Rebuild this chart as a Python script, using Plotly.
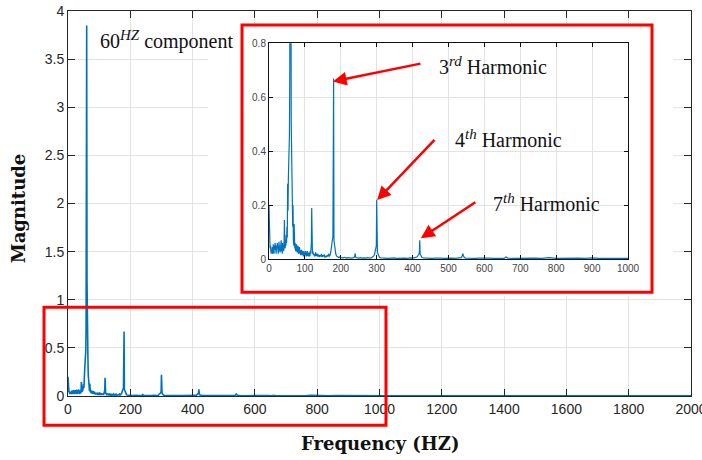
import plotly.graph_objects as go

# ---- data ----
freq_hz = [
    0, 1, 2, 3, 4, 5, 6, 7, 8, 9, 10, 11, 12, 13, 14, 15, 16, 17, 18, 19,
    20, 21, 22, 23, 24, 25, 26, 27, 28, 29, 30, 31, 32, 33, 34, 35, 36, 37, 38, 39,
    40, 41, 42, 43, 44, 45, 46, 47, 48, 49, 50, 51, 52, 53, 54, 55, 56, 57, 58, 59,
    60, 61, 62, 63, 64, 65, 66, 67, 68, 69, 70, 71, 72, 73, 74, 75, 76, 77, 78, 79,
    80, 81, 82, 83, 84, 85, 86, 87, 88, 89, 90, 91, 92, 93, 94, 95, 96, 97, 98, 99,
    100, 101, 102, 103, 104, 105, 106, 107, 108, 109, 110, 111, 112, 113, 114, 115, 116, 117, 118, 119,
    120, 121, 122, 124, 126, 128, 130, 132, 134, 136, 138, 140, 142, 144, 146, 148, 150, 152, 154, 156,
    158, 160, 162, 164, 166, 168, 170, 172, 174, 175, 176, 177, 178, 179, 180, 181, 182, 183, 184, 186,
    188, 190, 192, 194, 196, 198, 200, 205, 210, 215, 220, 225, 230, 235, 238, 239, 240, 241, 242, 246,
    250, 255, 260, 265, 270, 275, 280, 285, 290, 292, 294, 296, 298, 299, 300, 301, 302, 304, 306, 308,
    312, 318, 325, 332, 340, 348, 355, 362, 370, 378, 385, 392, 400, 406, 410, 412, 414, 416, 418, 419,
    420, 421, 422, 424, 426, 430, 438, 446, 455, 463, 470, 478, 486, 495, 503, 510, 518, 526, 532, 536,
    538, 540, 542, 544, 548, 556, 565, 575, 585, 595, 610, 625, 640, 655, 660, 665, 680, 700, 720, 740,
    760, 780, 800, 820, 840, 860, 880, 900, 920, 940, 960, 980, 1000, 1040, 1080, 1120, 1140, 1160, 1200, 1250,
    1300, 1350, 1400, 1450, 1500, 1550, 1600, 1650, 1700, 1750, 1800, 1850, 1900, 1950, 2000,
]
magnitude = [
    0.20, 0.12, 0.06, 0.04, 0.05, 0.03, 0.02, 0.035, 0.025, 0.045, 0.02, 0.03, 0.055, 0.04, 0.02, 0.05, 0.035, 0.06, 0.03, 0.045,
    0.02, 0.05, 0.04, 0.06, 0.03, 0.055, 0.02, 0.045, 0.065, 0.03, 0.05, 0.025, 0.06, 0.04, 0.07, 0.03, 0.05, 0.02, 0.06, 0.035,
    0.05, 0.03, 0.06, 0.145, 0.05, 0.04, 0.07, 0.05, 0.09, 0.06, 0.12, 0.08, 0.28, 0.18, 0.30, 0.36, 0.42, 0.46, 0.70, 1.60,
    3.85, 1.20, 0.50, 0.44, 0.38, 0.22, 0.12, 0.20, 0.07, 0.05, 0.13, 0.06, 0.04, 0.06, 0.03, 0.05, 0.035, 0.055, 0.025, 0.045,
    0.03, 0.05, 0.02, 0.04, 0.025, 0.045, 0.02, 0.035, 0.015, 0.03, 0.02, 0.035, 0.015, 0.03, 0.02, 0.025, 0.01, 0.03, 0.015, 0.025,
    0.01, 0.02, 0.03, 0.015, 0.025, 0.01, 0.02, 0.03, 0.012, 0.02, 0.01, 0.025, 0.015, 0.02, 0.01, 0.03, 0.02, 0.04, 0.06, 0.19,
    0.05, 0.02, 0.03, 0.015, 0.02, 0.01, 0.025, 0.012, 0.02, 0.01, 0.018, 0.008, 0.015, 0.01, 0.02, 0.008, 0.015, 0.01, 0.018, 0.006,
    0.012, 0.008, 0.015, 0.01, 0.02, 0.012, 0.015, 0.025, 0.05, 0.07, 0.06, 0.075, 0.08, 0.66, 0.67, 0.07, 0.06, 0.05, 0.03, 0.02,
    0.012, 0.01, 0.008, 0.006, 0.008, 0.005, 0.006, 0.005, 0.007, 0.004, 0.006, 0.005, 0.004, 0.006, 0.008, 0.012, 0.022, 0.012, 0.006, 0.005,
    0.004, 0.006, 0.004, 0.005, 0.004, 0.006, 0.004, 0.005, 0.008, 0.012, 0.018, 0.028, 0.035, 0.05, 0.22, 0.04, 0.03, 0.018, 0.01, 0.006,
    0.005, 0.004, 0.005, 0.003, 0.004, 0.005, 0.003, 0.004, 0.005, 0.004, 0.003, 0.005, 0.004, 0.005, 0.006, 0.008, 0.012, 0.018, 0.02, 0.03,
    0.07, 0.02, 0.018, 0.01, 0.006, 0.005, 0.004, 0.005, 0.003, 0.004, 0.005, 0.004, 0.003, 0.004, 0.005, 0.004, 0.003, 0.004, 0.005, 0.006,
    0.012, 0.02, 0.012, 0.006, 0.004, 0.003, 0.004, 0.003, 0.004, 0.003, 0.004, 0.003, 0.004, 0.003, 0.008, 0.004, 0.003, 0.004, 0.003, 0.004,
    0.003, 0.006, 0.003, 0.004, 0.003, 0.004, 0.003, 0.005, 0.003, 0.004, 0.003, 0.003, 0.004, 0.003, 0.003, 0.003, 0.01, 0.003, 0.004, 0.003,
    0.003, 0.004, 0.003, 0.003, 0.004, 0.003, 0.003, 0.004, 0.003, 0.003, 0.004, 0.003, 0.003, 0.003, 0.003,
]

main_x_ticks = [0, 200, 400, 600, 800, 1000, 1200, 1400, 1600, 1800, 2000]
main_y_ticks = [0, 0.5, 1, 1.5, 2, 2.5, 3, 3.5, 4]
inset_x_ticks = [0, 100, 200, 300, 400, 500, 600, 700, 800, 900, 1000]
inset_y_ticks = [0, 0.2, 0.4, 0.6, 0.8]

# harmonic labels and arrows, in inset units
SUP = "<sup><span style='font-size:15px'><i>{}</i></span></sup>"
harmonic_labels = ["3" + SUP.format("rd") + " Harmonic",
                   "4" + SUP.format("th") + " Harmonic",
                   "7" + SUP.format("th") + " Harmonic"]
label_x = [625, 666, 772]
label_y = [0.718, 0.448, 0.211]
head_x = [178, 301, 423]
head_y = [0.659, 0.219, 0.078]
tail_x = [426, 465, 579]
tail_y = [0.726, 0.448, 0.215]

LINE = "#0072BD"
TICKFONT = "Liberation Sans Narrow, Arial Narrow, Liberation Sans, Arial"
SERIF = "Liberation Serif, Times New Roman, serif"
BOLDSERIF = "DejaVu Serif, serif"

fig = go.Figure()
fig.add_trace(go.Scatter(x=freq_hz, y=magnitude, mode="lines",
                         line=dict(color=LINE, width=1.6), showlegend=False,
                         xaxis="x", yaxis="y"))
# empty trace that owns the white cover panel behind the inset
fig.add_trace(go.Scatter(x=[], y=[], mode="lines", showlegend=False,
                         hoverinfo="skip", xaxis="x2", yaxis="y2"))
fig.add_trace(go.Scatter(x=freq_hz, y=magnitude, mode="lines",
                         line=dict(color=LINE, width=1.2), showlegend=False,
                         xaxis="x3", yaxis="y3"))

axis_common = dict(showline=True, mirror="ticks", ticks="inside", zeroline=False,
                   showgrid=True, gridcolor="#e3e3e3", gridwidth=1, automargin=False,
                   ticklabeloverflow="allow")

fig.update_layout(
    width=702, height=460,
    margin=dict(l=68, r=11, t=11, b=64, autoexpand=False),
    paper_bgcolor="white", plot_bgcolor="white",
    xaxis=dict(**axis_common, domain=[0, 1], range=[0, 2000], tickvals=main_x_ticks,
               linecolor="#262626", ticklen=7, tickcolor="#262626",
               tickfont=dict(family=TICKFONT, size=14, color="#262626"),
               anchor="y"),
    yaxis=dict(**axis_common, domain=[0, 1], range=[0, 4], tickvals=main_y_ticks,
               linecolor="#262626", ticklen=7, tickcolor="#262626",
               tickfont=dict(family=TICKFONT, size=14, color="#262626"),
               anchor="x"),
    xaxis2=dict(visible=False, domain=[0.2247, 0.9711], range=[0, 1], anchor="y2", fixedrange=True),
    yaxis2=dict(visible=False, domain=[0.2592, 0.9662], range=[0, 1], anchor="x2", fixedrange=True),
    xaxis3=dict(**axis_common, domain=[0.3226, 0.8989], range=[0, 1000], tickvals=inset_x_ticks,
                linecolor="#111111", ticklen=4, tickcolor="#111111",
                tickfont=dict(family=TICKFONT, size=10, color="#444444"),
                anchor="y3"),
    yaxis3=dict(**axis_common, domain=[0.3553, 0.916], range=[0, 0.8], tickvals=inset_y_ticks,
                linecolor="#111111", ticklen=4, tickcolor="#111111",
                tickfont=dict(family=TICKFONT, size=10, color="#444444"),
                anchor="x3"),
)

# axis titles
fig.add_annotation(x=0.5, y=-0.123, xref="paper", yref="paper", showarrow=False,
                   text="<b>Frequency (HZ)</b>", yanchor="middle",
                   font=dict(family=BOLDSERIF, size=18, color="#111111"))
fig.add_annotation(x=-0.080, y=0.488, xref="paper", yref="paper", showarrow=False,
                   text="<b>Magnitude</b>", textangle=-90, xanchor="center", yanchor="middle",
                   font=dict(family=BOLDSERIF, size=18, color="#111111"))

# red highlight boxes
fig.add_shape(type="rect", xref="paper", yref="paper", x0=0.2793, x1=0.9374, y0=0.2696, y1=0.9636,
              line=dict(color="#ff0000", width=3), layer="above")
fig.add_shape(type="rect", xref="paper", yref="paper", x0=-0.0385, x1=0.5104, y0=-0.0762, y1=0.2306,
              line=dict(color="#ff0000", width=3), layer="above")

# fundamental label
fig.add_annotation(x=315, y=3.70, xref="x", yref="y", showarrow=False,
                   text="60" + SUP.format("HZ") + " component",
                   font=dict(family=SERIF, size=20, color="#111111"))

for i in range(len(harmonic_labels)):
    fig.add_annotation(x=label_x[i], y=label_y[i], xref="x3", yref="y3", showarrow=False,
                       text=harmonic_labels[i],
                       font=dict(family=SERIF, size=20, color="#111111"))
    fig.add_annotation(x=head_x[i], y=head_y[i], xref="x3", yref="y3",
                       ax=tail_x[i], ay=tail_y[i], axref="x3", ayref="y3",
                       text="", showarrow=True, arrowhead=2, arrowsize=1.1,
                       arrowwidth=2.5, arrowcolor="#ff0000", standoff=0)

fig.write_html("out.html", config={"displayModeBar": False},
               post_script="document.body.style.margin='0';document.body.style.overflow='hidden';")
